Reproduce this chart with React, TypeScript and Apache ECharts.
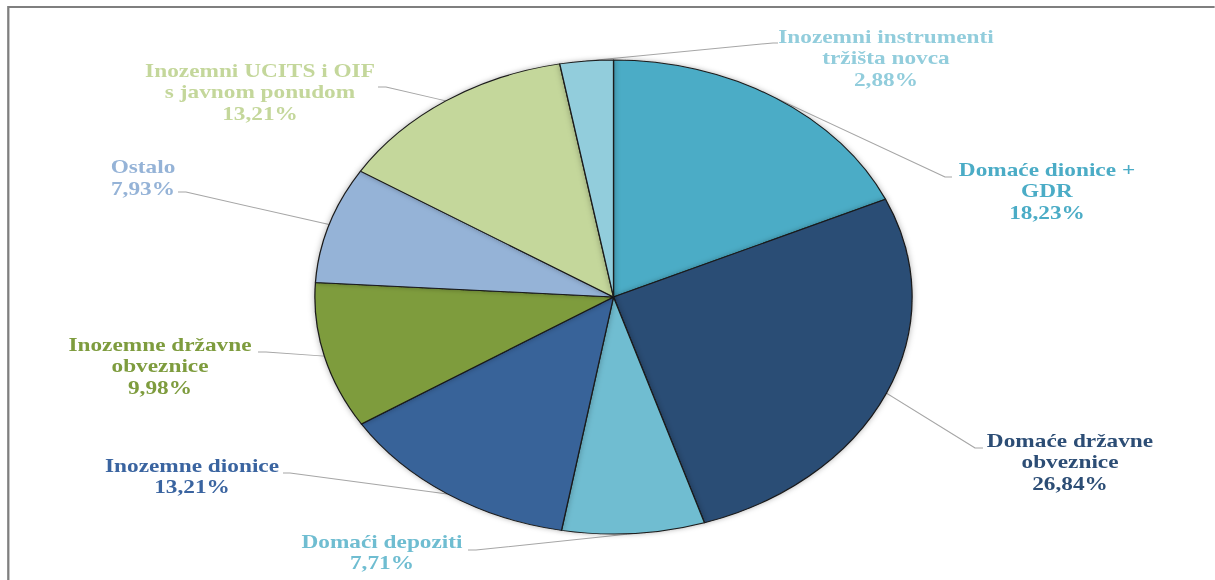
import React, { useEffect, useRef } from "react";
import * as echarts from "echarts";

// horizontal stretch of the whole picture (the pie is an ellipse in the reference)
const S = 1.26;

const categories = [
  "Domaće dionice +\nGDR",
  "Domaće državne\nobveznice",
  "Domaći depoziti",
  "Inozemne dionice",
  "Inozemne državne\nobveznice",
  "Ostalo",
  "Inozemni UCITS i OIF\ns javnom ponudom",
  "Inozemni instrumenti\ntržišta novca",
];
const values = [18.23, 26.84, 7.71, 13.21, 9.98, 7.93, 13.21, 2.88];

const sliceColors = [
  "#4BACC6",
  "#2C4D75",
  "#6FBDD1",
  "#386399",
  "#7E9C3E",
  "#95B3D7",
  "#C4D79B",
  "#92CDDC",
];
const labelColors = [
  "#4BACC6",
  "#2C4D75",
  "#6FBDD1",
  "#3A64A0",
  "#7E9C3E",
  "#95B3D7",
  "#C4D79B",
  "#92CDDC",
];

// label placement (picture pixels): center x, top y
const labelCenter = [
  [1047, 159],
  [1070, 430],
  [382, 531],
  [192, 455],
  [160, 334],
  [143, 156.5],
  [260, 60],
  [886, 26],
];
const leaderEnd = [
  [952, 177],
  [983, 448],
  [468, 550],
  [283, 473],
  [258, 352],
  [178, 192],
  [378, 87],
  [778, 43],
];
const leaderKnee = [
  [945, 177],
  [975, 448],
  [476, 550],
  [290, 473],
  [266, 352],
  [186, 192],
  [386, 87],
  [773, 43],
];

const CX = 613.5 / S;
const CY = 297;
const R = 237;

function fmt(v: number) {
  return v.toFixed(2).replace(".", ",") + "%";
}

function midAnchor(i: number): number[] {
  const total = values.reduce((a, b) => a + b, 0);
  let cum = 0;
  for (let k = 0; k < i; k++) cum += values[k];
  const frac = (cum + values[i] / 2) / total;
  const ang = Math.PI / 2 - frac * Math.PI * 2;
  return [CX + R * Math.cos(ang), CY - R * Math.sin(ang)];
}

export default function App() {
  const ref = useRef<HTMLDivElement>(null);

  useEffect(() => {
    if (!ref.current) return;
    const chart = echarts.init(ref.current, null, { renderer: "svg" });
    chart.setOption({
      animation: false,
      graphic: [
        {
          type: "rect",
          silent: true,
          shape: { x: 8.3 / S, y: 7, width: 3000, height: 2000 },
          style: { fill: "none", stroke: "#7F7F7F", lineWidth: 1.8 },
        },
      ],
      series: [
        {
          type: "pie",
          center: [CX, CY],
          radius: R,
          startAngle: 90,
          clockwise: true,
          avoidLabelOverlap: false,
          silent: true,
          itemStyle: {
            borderColor: "#1A1A1A",
            borderWidth: 1,
            shadowBlur: 5,
            shadowColor: "rgba(0,0,0,0.3)",
          },
          label: {
            show: true,
            position: "outside",
            fontFamily: "'Liberation Serif', 'Times New Roman', serif",
            fontWeight: "bold",
            fontSize: 18.5,
            lineHeight: 21.5,
            align: "center",
            formatter: (p: any) => p.name + "\n" + fmt(p.value),
          },
          labelLine: {
            show: true,
            lineStyle: { color: "#A6A6A6", width: 1 },
          },
          labelLayout: (p: any) => {
            const i = p.dataIndex;
            const a =
              p.labelLinePoints && p.labelLinePoints[0]
                ? p.labelLinePoints[0]
                : midAnchor(i);
            return {
              x: labelCenter[i][0] / S,
              y: labelCenter[i][1],
              align: "center",
              verticalAlign: "top",
              labelLinePoints: [
                a,
                [leaderKnee[i][0] / S, leaderKnee[i][1]],
                [leaderEnd[i][0] / S, leaderEnd[i][1]],
              ],
            };
          },
          data: categories.map((name, i) => ({
            name,
            value: values[i],
            itemStyle: { color: sliceColors[i] },
            label: { color: labelColors[i] },
          })),
        },
      ],
    });
    return () => chart.dispose();
  }, []);

  return (
    <div
      style={{
        position: "absolute",
        left: 0,
        top: 0,
        width: 1215,
        height: 580,
        overflow: "hidden",
        background: "#ffffff",
      }}
    >
      <div
        ref={ref}
        style={{
          width: 1215 / S,
          height: 580,
          transform: `scaleX(${S})`,
          transformOrigin: "0 0",
        }}
      />
    </div>
  );
}
